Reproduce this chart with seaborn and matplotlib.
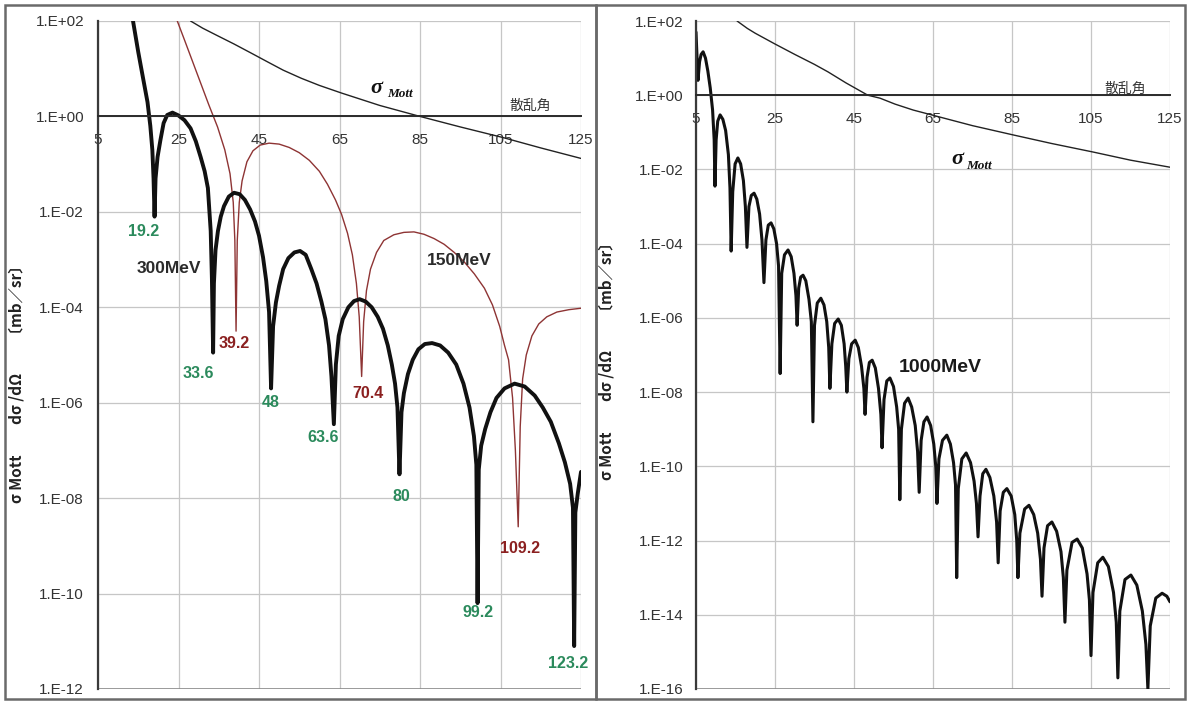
import numpy as np
import pandas as pd
import matplotlib
matplotlib.use("Agg")
import matplotlib.pyplot as plt
import seaborn as sns
from matplotlib.patches import Rectangle
from matplotlib.ticker import FixedLocator, FixedFormatter, NullLocator

# ---------------- data (x = scattering angle [deg], values as log10 of cross section) -------------
x_ticks = [5, 25, 45, 65, 85, 105, 125]
x_tick_labels = ["5", "25", "45", "65", "85", "105", "125"]

left_y_exp = [2, 0, -2, -4, -6, -8, -10, -12]
left_y_labels = ["1.E+02", "1.E+00", "1.E-02", "1.E-04", "1.E-06", "1.E-08", "1.E-10", "1.E-12"]
right_y_exp = [2, 0, -2, -4, -6, -8, -10, -12, -14, -16]
right_y_labels = ["1.E+02", "1.E+00", "1.E-02", "1.E-04", "1.E-06", "1.E-08",
                  "1.E-10", "1.E-12", "1.E-14", "1.E-16"]

mott_left_x = [28, 31, 34.5, 38.75, 43, 47.2, 51, 55.5, 60, 65.5, 75, 85, 95, 105.5, 115, 125]
mott_left_log = [2.0, 1.85, 1.7, 1.52, 1.33, 1.14, 0.97, 0.8, 0.65, 0.49, 0.23, 0.0,
                 -0.22, -0.44, -0.66, -0.88]

mev300_x = [13.7, 15.0, 16.2, 17.3, 18.0, 18.5, 18.8, 19.05, 19.3, 19.8, 20.5, 21.3, 22.2, 23.5,
            25.0, 26.5, 28.0, 29.3, 30.5, 31.5, 32.3, 33.0, 33.3, 33.6, 33.8, 34.2, 34.8, 35.5,
            36.3, 37.5, 38.8, 40.2, 41.5, 42.8, 44.0, 45.0, 46.0, 46.8, 47.5, 48.0, 48.5, 49.2,
            50.0, 51.0, 52.3, 53.8, 55.2, 56.6, 58.0, 59.3, 60.5, 61.5, 62.4, 63.0, 63.6, 64.1,
            64.8, 65.8, 67.2, 68.6, 70.0, 71.5, 73.0, 74.5, 75.8, 77.0, 78.0, 78.8, 79.4, 79.9,
            80.4, 81.0, 82.0, 83.2, 84.6, 86.2, 88.0, 90.0, 92.0, 94.0, 95.8, 97.3, 98.4, 99.0,
            99.3, 99.6, 100.2, 101.2, 102.5, 104.0, 106.0, 108.5, 111.0, 113.5, 115.5, 117.5,
            119.5, 121.0, 122.3, 123.0, 123.3, 123.6, 124.2, 125.0]
mev300_log = [2.0, 1.35, 0.8, 0.3, -0.2, -0.7, -1.3, -2.1, -1.3, -0.85, -0.5, -0.14, 0.03, 0.08,
              0.02, -0.08, -0.25, -0.52, -0.85, -1.15, -1.5, -2.4, -3.4, -4.95, -3.5, -2.8, -2.4,
              -2.1, -1.88, -1.68, -1.6, -1.63, -1.75, -1.95, -2.2, -2.5, -2.95, -3.45, -4.1, -5.7,
              -4.4, -3.9, -3.55, -3.2, -2.97, -2.85, -2.82, -2.9, -3.2, -3.5, -3.88, -4.25, -4.8,
              -5.45, -6.45, -5.2, -4.6, -4.25, -4.0, -3.87, -3.83, -3.88, -4.0, -4.2, -4.45, -4.8,
              -5.2, -5.6, -6.1, -7.5, -6.2, -5.8, -5.4, -5.1, -4.88, -4.77, -4.75, -4.8, -4.95,
              -5.2, -5.6, -6.1, -6.7, -7.3, -10.2, -7.4, -6.9, -6.55, -6.2, -5.9, -5.7, -5.6,
              -5.66, -5.85, -6.1, -6.4, -6.85, -7.25, -7.7, -8.2, -11.1, -8.3, -7.9, -7.45]

mev150_x = [24.7, 26.5, 28.5, 30.5, 32.5, 34.7, 36.5, 37.8, 38.6, 39.0, 39.3, 39.6, 40.1, 40.8,
            42.0, 43.5, 45.3, 47.5, 50.0, 52.5, 55.0, 57.5, 60.0, 62.0, 64.0, 65.5, 67.0, 68.2,
            69.2, 69.9, 70.5, 71.0, 71.7, 72.7, 74.2, 76.0, 78.5, 81.0, 83.5, 86.0, 88.5, 91.0,
            93.5, 96.0, 98.5, 101.0, 103.0, 104.8, 106.0, 107.0, 108.0, 108.7, 109.4, 109.9,
            110.5, 111.4, 112.8, 114.5, 116.5, 119.0, 122.0, 125.0]
mev150_log = [2.0, 1.6, 1.15, 0.7, 0.25, -0.22, -0.7, -1.2, -1.8, -2.6, -4.5, -2.6, -1.8, -1.35,
              -0.95, -0.72, -0.6, -0.56, -0.58, -0.65, -0.76, -0.92, -1.15, -1.42, -1.75, -2.05,
              -2.45, -2.9, -3.5, -4.2, -5.45, -4.3, -3.65, -3.2, -2.85, -2.6, -2.48, -2.43, -2.42,
              -2.47, -2.56, -2.68, -2.85, -3.05, -3.3, -3.6, -3.95, -4.4, -4.8, -5.1, -5.9, -7.0,
              -8.6, -6.5, -5.5, -5.0, -4.6, -4.35, -4.2, -4.1, -4.05, -4.02]

mott_right_x = [15.4, 18, 20, 25, 30, 35, 38.4, 43, 48.5, 51.6, 55.4, 60, 65, 75, 85.3, 95,
                105.5, 115, 125]
mott_right_log = [2.0, 1.8, 1.67, 1.38, 1.1, 0.83, 0.63, 0.33, 0.0, -0.08, -0.24, -0.4, -0.54,
                  -0.82, -1.07, -1.3, -1.53, -1.75, -1.94]

mev1000_x = [5.0, 5.3, 5.5, 5.9, 6.3, 6.8, 7.4, 8.0, 8.6, 9.2, 9.6, 9.8, 10.1, 10.5, 11.1, 11.8,
             12.5, 13.2, 13.6, 13.9, 14.3, 14.9, 15.6, 16.3, 17.0, 17.5, 17.9, 18.4, 19.0, 19.7,
             20.4, 21.1, 21.7, 22.2, 22.7, 23.3, 24.0, 24.7, 25.4, 25.9, 26.3, 26.7, 27.4, 28.3,
             29.1, 29.8, 30.3, 30.6, 31.0, 31.5, 32.1, 32.8, 33.6, 34.2, 34.6, 35.0, 35.7, 36.6,
             37.4, 38.1, 38.6, 38.9, 39.4, 40.1, 41.0, 41.8, 42.5, 42.9, 43.2, 43.7, 44.4, 45.3,
             46.1, 46.9, 47.5, 47.8, 48.3, 48.9, 49.6, 50.4, 51.2, 51.8, 52.1, 52.6, 53.3, 54.1,
             55.0, 55.8, 56.3, 56.6, 57.0, 57.8, 58.7, 59.6, 60.5, 61.1, 61.5, 62.0, 62.7, 63.5,
             64.4, 65.2, 65.7, 66.0, 66.5, 67.4, 68.5, 69.4, 70.2, 70.7, 71.0, 71.4, 72.3, 73.4,
             74.5, 75.4, 76.0, 76.4, 76.9, 77.6, 78.4, 79.4, 80.4, 81.1, 81.5, 82.0, 82.8, 83.7,
             84.8, 85.7, 86.2, 86.5, 87.0, 88.2, 89.3, 90.5, 91.5, 92.2, 92.6, 93.1, 94.0, 95.1,
             96.3, 97.4, 98.0, 98.4, 98.9, 100.2, 101.5, 102.8, 104.0, 104.6, 105.0, 105.5,
             106.7, 108.0, 109.4, 110.7, 111.4, 111.8, 112.3, 113.6, 115.1, 116.6, 118.0, 118.9,
             119.4, 120.0, 121.4, 123.0, 124.2, 125.0]
mev1000_log = [1.7, 0.9, 0.4, 0.9, 1.1, 1.17, 1.0, 0.65, 0.2, -0.4, -1.2, -2.45, -1.2, -0.7,
               -0.53, -0.65, -0.95, -1.6, -2.5, -4.2, -2.6, -1.85, -1.69, -1.85, -2.3, -3.0, -4.1,
               -3.0, -2.7, -2.64, -2.8, -3.2, -3.9, -5.05, -3.9, -3.5, -3.44, -3.6, -4.0, -4.6,
               -7.5, -4.8, -4.3, -4.17, -4.35, -4.8, -5.4, -6.2, -5.2, -4.9, -4.85, -5.0, -5.5,
               -6.1, -8.8, -6.2, -5.6, -5.47, -5.65, -6.1, -6.8, -7.9, -6.7, -6.15, -6.03, -6.2,
               -6.7, -7.3, -8.0, -7.1, -6.7, -6.6, -6.8, -7.3, -7.9, -8.6, -7.6, -7.2, -7.14,
               -7.35, -7.9, -8.6, -9.5, -8.2, -7.7, -7.62, -7.85, -8.4, -9.0, -10.9, -9.0, -8.3,
               -8.16, -8.4, -8.9, -9.6, -10.7, -9.3, -8.8, -8.67, -8.9, -9.4, -10.0, -11.0, -9.8,
               -9.3, -9.16, -9.4, -9.9, -10.5, -13.0, -10.6, -9.8, -9.64, -9.9, -10.4, -11.0,
               -11.9, -10.8, -10.2, -10.08, -10.3, -10.8, -11.5, -12.6, -11.2, -10.7, -10.6,
               -10.8, -11.3, -12.0, -13.0, -11.8, -11.15, -11.05, -11.3, -11.8, -12.5, -13.5,
               -12.2, -11.6, -11.5, -11.75, -12.3, -13.0, -14.2, -12.8, -12.05, -11.96, -12.2,
               -12.9, -13.6, -15.1, -13.4, -12.6, -12.45, -12.7, -13.4, -14.2, -15.7, -13.9,
               -13.05, -12.93, -13.2, -13.9, -14.8, -16.0, -14.3, -13.55, -13.42, -13.5, -13.65]

min300_labels = ["19.2", "33.6", "48", "63.6", "80", "99.2", "123.2"]
min150_labels = ["39.2", "70.4", "109.2"]

# ---------------- style ----------------
sns.set_style("white")
plt.rcParams["font.family"] = ["Liberation Sans", "Noto Sans CJK JP", "DejaVu Sans"]
CJK = ["Noto Sans CJK JP", "DejaVu Sans"]

W, H = 1192, 702
fig = plt.figure(figsize=(W / 100, H / 100), dpi=100)
fig.patch.set_facecolor("white")


def fx(px):
    return px / W


def fy(py):
    return 1 - py / H


axL = fig.add_axes([fx(98), fy(689), fx(581) - fx(98), fy(21) - fy(689)])
axR = fig.add_axes([fx(696), fy(689), fx(1170) - fx(696), fy(21) - fy(689)])

# panel frames
for (x0, x1) in [(5, 596), (596, 1185)]:
    fig.add_artist(Rectangle((fx(x0), fy(699)), fx(x1) - fx(x0), fy(5) - fy(699),
                             transform=fig.transFigure, fill=False,
                             edgecolor="#6a6a6a", linewidth=1.8))


def style_axis(ax, yexp, ylabels, ypad):
    ax.set_yscale("log")
    ax.set_xlim(5, 125)
    ax.set_ylim(10.0 ** min(yexp), 10.0 ** max(yexp))
    ax.yaxis.set_major_locator(FixedLocator(10.0 ** np.array(yexp, dtype=float)))
    ax.yaxis.set_major_formatter(FixedFormatter(ylabels))
    ax.yaxis.set_minor_locator(NullLocator())
    ax.xaxis.set_major_locator(FixedLocator(x_ticks))
    ax.xaxis.set_major_formatter(FixedFormatter(x_tick_labels))
    ax.xaxis.set_minor_locator(NullLocator())
    ax.set_axisbelow(True)
    ax.grid(True, color="#c6c6c6", linewidth=0.9)
    for s in ["top", "right"]:
        ax.spines[s].set_visible(False)
    ax.spines["bottom"].set_position(("data", 1.0))
    ax.spines["bottom"].set_color("#2a2a2a")
    ax.spines["bottom"].set_linewidth(1.4)
    ax.spines["left"].set_color("#3a3a3a")
    ax.spines["left"].set_linewidth(1.6)
    ax.axhline(10.0 ** min(yexp), color="#8a8a8a", linewidth=1.2, zorder=1)
    ax.tick_params(axis="x", direction="in", length=5, width=1.2, color="#2a2a2a",
                   pad=12, labelsize=11, labelcolor="#333333")
    ax.tick_params(axis="y", direction="in", length=5, width=1.2, color="#3a3a3a",
                   pad=ypad, labelsize=11, labelcolor="#333333")
    ax.set_xlabel("")
    ax.set_ylabel("")


def curve(ax, xs, logs, color, lw):
    df = pd.DataFrame({"x": xs, "y": 10.0 ** np.array(logs, dtype=float)})
    sns.lineplot(data=df, x="x", y="y", ax=ax, color=color, linewidth=lw,
                 sort=False, estimator=None)


# ---------------- left panel ----------------
curve(axL, mott_left_x, mott_left_log, "#222222", 1.0)
curve(axL, mev150_x, mev150_log, "#8e3434", 1.0)
curve(axL, mev300_x, mev300_log, "#111111", 2.8)
style_axis(axL, left_y_exp, left_y_labels, 10)

green = "#2b8a5c"
red = "#8b2020"
pos300 = [(16.25, -2.42), (30.0, -5.38), (48.0, -5.99), (61.0, -6.72), (80.25, -7.96),
          (99.5, -10.39), (121.75, -11.46)]
for lab, (xx, ly) in zip(min300_labels, pos300):
    axL.text(xx, 10 ** ly, lab, color=green, fontsize=11.5, fontweight="bold",
             ha="center", va="center")
pos150 = [(38.75, -4.75), (72.0, -5.8), (109.75, -9.05)]
for lab, (xx, ly) in zip(min150_labels, pos150):
    axL.text(xx, 10 ** ly, lab, color=red, fontsize=11.5, fontweight="bold",
             ha="center", va="center")

axL.text(22.5, 10 ** -3.18, "300MeV", color="#2a2a2a", fontsize=12.5, fontweight="bold",
         ha="center", va="center")
axL.text(94.75, 10 ** -3.01, "150MeV", color="#2a2a2a", fontsize=12.5, fontweight="bold",
         ha="center", va="center")
axL.text(74.25, 10 ** 0.6, "σ", family="Liberation Serif", fontsize=16, fontweight="bold",
         style="italic", ha="center", va="center", color="#111111")
axL.text(80.0, 10 ** 0.46, "Mott", family="Liberation Serif", fontsize=9.5, fontweight="bold",
         style="italic", ha="center", va="center", color="#111111")
axL.text(112.5, 10 ** 0.21, "散乱角", family=CJK, fontsize=10, ha="center", va="center",
         color="#333333")

# ---------------- right panel ----------------
curve(axR, mott_right_x, mott_right_log, "#222222", 1.0)
curve(axR, mev1000_x, mev1000_log, "#111111", 2.2)
style_axis(axR, right_y_exp, right_y_labels, 9)

axR.text(66.8, 10 ** -7.33, "1000MeV", color="#1a1a1a", fontsize=14, fontweight="bold",
         ha="center", va="center")
axR.text(71.1, 10 ** -1.72, "σ", family="Liberation Serif", fontsize=16, fontweight="bold",
         style="italic", ha="center", va="center", color="#111111")
axR.text(76.6, 10 ** -1.9, "Mott", family="Liberation Serif", fontsize=9.5, fontweight="bold",
         style="italic", ha="center", va="center", color="#111111")
axR.text(113.6, 10 ** 0.17, "散乱角", family=CJK, fontsize=10, ha="center", va="center",
         color="#333333")

# y-axis titles
ylab = "σ Mott　　dσ /dΩ　　〔mb／sr〕"
fig.text(fx(17), fy(380), ylab, rotation=90, family=CJK, fontsize=11, fontweight="bold",
         ha="center", va="center", color="#222222")
fig.text(fx(607), fy(357), ylab, rotation=90, family=CJK, fontsize=11, fontweight="bold",
         ha="center", va="center", color="#222222")

fig.savefig("out.png", dpi=100, facecolor="white")
